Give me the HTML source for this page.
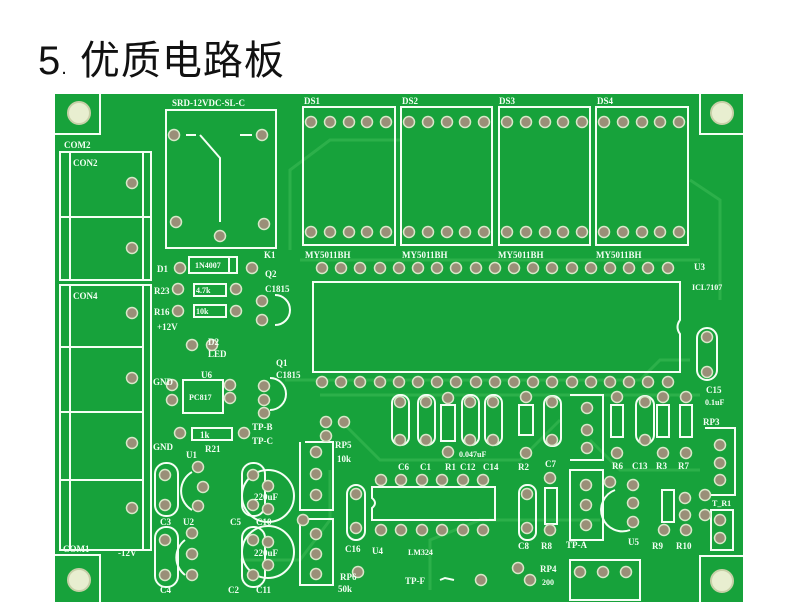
<!DOCTYPE html>
<html><head><meta charset="utf-8">
<style>
html,body{margin:0;padding:0;background:#fff;width:800px;height:605px;overflow:hidden}
#t{position:absolute;left:38px;top:28px;font:40px "Liberation Sans","Noto Sans CJK SC",sans-serif;color:#111;letter-spacing:1px}
svg{position:absolute;left:0;top:0}
.s{fill:none;stroke:#f4fff4;stroke-width:2}
.tr{fill:none;stroke:#2cb04a;stroke-width:3}
text{fill:#f4fff4;font-family:"Liberation Serif",serif;font-weight:bold}
</style></head><body>
<div id="t">5<span style="font-size:20px">.</span> 优质电路板</div>
<svg width="800" height="605" xmlns:xlink="http://www.w3.org/1999/xlink">
<defs><circle id="p" cx="0" cy="0" r="5.5" fill="#9a8f78" stroke="#d8e8c8" stroke-width="1.5"/></defs>
<rect x="55" y="94" width="688" height="508" fill="#17a23b"/>
<g class="tr">
<path d="M290 250 L290 170 L330 140 L400 140"/>
<path d="M285 380 L640 380 L660 360 L690 360"/>
<path d="M300 260 L700 260"/>
<path d="M320 395 L700 395"/>
<path d="M340 420 L380 460 L520 460 L560 420"/>
<path d="M430 590 L430 540 L480 520 L600 520"/>
<path d="M240 560 L300 560 L330 520 L330 470"/>
<path d="M590 440 L620 470 L700 470"/>
<path d="M690 180 L720 200 L720 300"/>
</g>
<g class="s">
<path d="M100 94 L100 134 L55 134"/>
<path d="M700 94 L700 134 L743 134"/>
<path d="M55 555 L100 555 L100 602"/>
<path d="M743 556 L700 556 L700 602"/>
</g>
<g fill="#e8eed0" stroke="#c8d0a8" stroke-width="2">
<circle cx="79" cy="113" r="11"/><circle cx="722" cy="113" r="11"/>
<circle cx="79" cy="580" r="11"/><circle cx="722" cy="581" r="11"/>
</g>
<g class="s">
<rect x="60" y="152" width="91" height="128"/><line x1="70" y1="152" x2="70" y2="280"/><line x1="143" y1="152" x2="143" y2="280"/>
<line x1="60" y1="217" x2="151" y2="217"/>
<rect x="60" y="285" width="91" height="265"/><line x1="70" y1="285" x2="70" y2="550"/><line x1="143" y1="285" x2="143" y2="550"/>
<line x1="60" y1="347" x2="143" y2="347"/><line x1="60" y1="412" x2="143" y2="412"/><line x1="60" y1="480" x2="143" y2="480"/>
<rect x="166" y="110" width="110" height="138"/>
<path d="M186 135 L196 135 M200 135 L220 158 L220 222 M240 135 L252 135"/>
<rect x="303" y="107" width="92" height="138"/><rect x="401" y="107" width="91" height="138"/>
<rect x="499" y="107" width="91" height="138"/><rect x="596" y="107" width="92" height="138"/>
<path d="M313 282 L680 282 L680 320 Q675 327 680 334 L680 372 L313 372 Z"/>
<rect x="697" y="328" width="20" height="52" rx="10"/>
<rect x="189" y="257" width="48" height="16"/><line x1="229" y1="257" x2="229" y2="273"/>
<rect x="194" y="284" width="32" height="12"/><rect x="194" y="305" width="32" height="12"/>
<rect x="192" y="428" width="40" height="12"/>
<rect x="183" y="380" width="40" height="33"/>
<path d="M275 295 A15 15 0 0 1 275 325"/><path d="M270 378 A15 15 0 0 1 270 410"/>
<rect x="155" y="463" width="23" height="53" rx="11"/><rect x="242" y="463" width="23" height="53" rx="11"/>
<rect x="155" y="527" width="23" height="60" rx="11"/><rect x="242" y="527" width="23" height="60" rx="11"/>
<path d="M192 472 A22 22 0 0 0 192 510"/><path d="M185 540 A22 22 0 0 0 185 575"/>
<circle cx="268" cy="496" r="26"/><circle cx="268" cy="552" r="26"/>
<path d="M300 442 L300 510 L333 510 L333 442 L305 442"/>
<path d="M300 519 L300 585 L333 585 L333 519 L305 519"/>
<rect x="347" y="485" width="18" height="55" rx="9"/>
<path d="M372 487 L495 487 L495 520 L372 520 L372 508 Q378 503 372 498 Z"/>
<rect x="392" y="395" width="17" height="50" rx="8"/><rect x="418" y="395" width="17" height="50" rx="8"/>
<rect x="462" y="395" width="17" height="50" rx="8"/><rect x="485" y="395" width="17" height="50" rx="8"/>
<rect x="441" y="405" width="14" height="36"/><rect x="519" y="405" width="14" height="30"/>
<rect x="544" y="396" width="17" height="50" rx="8"/>
<path d="M570 395 L603 395 L603 460 L570 460"/>
<rect x="611" y="405" width="12" height="32"/><rect x="636" y="396" width="18" height="48" rx="9"/>
<rect x="657" y="405" width="12" height="32"/><rect x="680" y="405" width="12" height="32"/>
<path d="M705 428 L735 428 L735 495 L705 495"/>
<rect x="519" y="485" width="17" height="55" rx="8"/><rect x="545" y="488" width="12" height="36"/>
<path d="M570 470 L603 470 L603 540 L570 540 Z"/>
<path d="M615 490 A18 18 0 0 0 630 530"/>
<rect x="662" y="490" width="12" height="32"/>
<rect x="711" y="510" width="22" height="40"/>
<path d="M570 560 L640 560 L640 600 L570 600 Z"/>
<path d="M454 580 L445 578 L440 580"/>
</g>
<g>
<use xlink:href="#p" x="132" y="183"/><use xlink:href="#p" x="132" y="248"/><use xlink:href="#p" x="132" y="313"/><use xlink:href="#p" x="132" y="378"/><use xlink:href="#p" x="132" y="443"/><use xlink:href="#p" x="132" y="508"/>
<use xlink:href="#p" x="174" y="135"/><use xlink:href="#p" x="262" y="135"/><use xlink:href="#p" x="176" y="222"/><use xlink:href="#p" x="220" y="236"/><use xlink:href="#p" x="264" y="224"/>
<use xlink:href="#p" x="311" y="122"/><use xlink:href="#p" x="330" y="122"/><use xlink:href="#p" x="349" y="122"/><use xlink:href="#p" x="367" y="122"/><use xlink:href="#p" x="386" y="122"/>
<use xlink:href="#p" x="409" y="122"/><use xlink:href="#p" x="428" y="122"/><use xlink:href="#p" x="447" y="122"/><use xlink:href="#p" x="465" y="122"/><use xlink:href="#p" x="484" y="122"/>
<use xlink:href="#p" x="507" y="122"/><use xlink:href="#p" x="526" y="122"/><use xlink:href="#p" x="545" y="122"/><use xlink:href="#p" x="563" y="122"/><use xlink:href="#p" x="582" y="122"/>
<use xlink:href="#p" x="604" y="122"/><use xlink:href="#p" x="623" y="122"/><use xlink:href="#p" x="642" y="122"/><use xlink:href="#p" x="660" y="122"/><use xlink:href="#p" x="679" y="122"/>
<use xlink:href="#p" x="311" y="232"/><use xlink:href="#p" x="330" y="232"/><use xlink:href="#p" x="349" y="232"/><use xlink:href="#p" x="367" y="232"/><use xlink:href="#p" x="386" y="232"/>
<use xlink:href="#p" x="409" y="232"/><use xlink:href="#p" x="428" y="232"/><use xlink:href="#p" x="447" y="232"/><use xlink:href="#p" x="465" y="232"/><use xlink:href="#p" x="484" y="232"/>
<use xlink:href="#p" x="507" y="232"/><use xlink:href="#p" x="526" y="232"/><use xlink:href="#p" x="545" y="232"/><use xlink:href="#p" x="563" y="232"/><use xlink:href="#p" x="582" y="232"/>
<use xlink:href="#p" x="604" y="232"/><use xlink:href="#p" x="623" y="232"/><use xlink:href="#p" x="642" y="232"/><use xlink:href="#p" x="660" y="232"/><use xlink:href="#p" x="679" y="232"/>
<use xlink:href="#p" x="322" y="268"/><use xlink:href="#p" x="341" y="268"/><use xlink:href="#p" x="360" y="268"/><use xlink:href="#p" x="380" y="268"/><use xlink:href="#p" x="399" y="268"/><use xlink:href="#p" x="418" y="268"/><use xlink:href="#p" x="437" y="268"/><use xlink:href="#p" x="456" y="268"/><use xlink:href="#p" x="476" y="268"/><use xlink:href="#p" x="495" y="268"/><use xlink:href="#p" x="514" y="268"/><use xlink:href="#p" x="533" y="268"/><use xlink:href="#p" x="552" y="268"/><use xlink:href="#p" x="572" y="268"/><use xlink:href="#p" x="591" y="268"/><use xlink:href="#p" x="610" y="268"/><use xlink:href="#p" x="629" y="268"/><use xlink:href="#p" x="648" y="268"/><use xlink:href="#p" x="668" y="268"/>
<use xlink:href="#p" x="322" y="382"/><use xlink:href="#p" x="341" y="382"/><use xlink:href="#p" x="360" y="382"/><use xlink:href="#p" x="380" y="382"/><use xlink:href="#p" x="399" y="382"/><use xlink:href="#p" x="418" y="382"/><use xlink:href="#p" x="437" y="382"/><use xlink:href="#p" x="456" y="382"/><use xlink:href="#p" x="476" y="382"/><use xlink:href="#p" x="495" y="382"/><use xlink:href="#p" x="514" y="382"/><use xlink:href="#p" x="533" y="382"/><use xlink:href="#p" x="552" y="382"/><use xlink:href="#p" x="572" y="382"/><use xlink:href="#p" x="591" y="382"/><use xlink:href="#p" x="610" y="382"/><use xlink:href="#p" x="629" y="382"/><use xlink:href="#p" x="648" y="382"/><use xlink:href="#p" x="668" y="382"/>
<use xlink:href="#p" x="381" y="480"/><use xlink:href="#p" x="401" y="480"/><use xlink:href="#p" x="422" y="480"/><use xlink:href="#p" x="442" y="480"/><use xlink:href="#p" x="463" y="480"/><use xlink:href="#p" x="483" y="480"/>
<use xlink:href="#p" x="381" y="530"/><use xlink:href="#p" x="401" y="530"/><use xlink:href="#p" x="422" y="530"/><use xlink:href="#p" x="442" y="530"/><use xlink:href="#p" x="463" y="530"/><use xlink:href="#p" x="483" y="530"/>
<use xlink:href="#p" x="180" y="268"/><use xlink:href="#p" x="252" y="268"/><use xlink:href="#p" x="178" y="289"/><use xlink:href="#p" x="236" y="289"/><use xlink:href="#p" x="178" y="311"/><use xlink:href="#p" x="236" y="311"/>
<use xlink:href="#p" x="262" y="301"/><use xlink:href="#p" x="262" y="320"/><use xlink:href="#p" x="192" y="345"/><use xlink:href="#p" x="212" y="345"/>
<use xlink:href="#p" x="172" y="385"/><use xlink:href="#p" x="172" y="400"/><use xlink:href="#p" x="230" y="385"/><use xlink:href="#p" x="230" y="398"/>
<use xlink:href="#p" x="264" y="386"/><use xlink:href="#p" x="264" y="400"/><use xlink:href="#p" x="264" y="413"/><use xlink:href="#p" x="180" y="433"/><use xlink:href="#p" x="244" y="433"/>
<use xlink:href="#p" x="165" y="475"/><use xlink:href="#p" x="165" y="505"/><use xlink:href="#p" x="253" y="475"/><use xlink:href="#p" x="253" y="505"/>
<use xlink:href="#p" x="198" y="467"/><use xlink:href="#p" x="203" y="487"/><use xlink:href="#p" x="198" y="506"/>
<use xlink:href="#p" x="165" y="540"/><use xlink:href="#p" x="165" y="575"/><use xlink:href="#p" x="253" y="540"/><use xlink:href="#p" x="253" y="575"/>
<use xlink:href="#p" x="192" y="533"/><use xlink:href="#p" x="192" y="554"/><use xlink:href="#p" x="192" y="575"/>
<use xlink:href="#p" x="268" y="486"/><use xlink:href="#p" x="268" y="509"/><use xlink:href="#p" x="268" y="542"/><use xlink:href="#p" x="268" y="565"/>
<use xlink:href="#p" x="316" y="452"/><use xlink:href="#p" x="316" y="474"/><use xlink:href="#p" x="316" y="495"/><use xlink:href="#p" x="316" y="534"/><use xlink:href="#p" x="316" y="554"/><use xlink:href="#p" x="316" y="574"/>
<use xlink:href="#p" x="303" y="520"/><use xlink:href="#p" x="356" y="494"/><use xlink:href="#p" x="356" y="528"/>
<use xlink:href="#p" x="326" y="422"/><use xlink:href="#p" x="326" y="436"/><use xlink:href="#p" x="344" y="422"/>
<use xlink:href="#p" x="400" y="402"/><use xlink:href="#p" x="400" y="440"/><use xlink:href="#p" x="426" y="402"/><use xlink:href="#p" x="426" y="440"/>
<use xlink:href="#p" x="448" y="398"/><use xlink:href="#p" x="448" y="452"/><use xlink:href="#p" x="470" y="402"/><use xlink:href="#p" x="470" y="440"/>
<use xlink:href="#p" x="493" y="402"/><use xlink:href="#p" x="493" y="440"/><use xlink:href="#p" x="526" y="397"/><use xlink:href="#p" x="526" y="453"/>
<use xlink:href="#p" x="552" y="402"/><use xlink:href="#p" x="552" y="440"/><use xlink:href="#p" x="587" y="408"/><use xlink:href="#p" x="587" y="430"/><use xlink:href="#p" x="587" y="448"/>
<use xlink:href="#p" x="617" y="397"/><use xlink:href="#p" x="617" y="453"/><use xlink:href="#p" x="645" y="402"/><use xlink:href="#p" x="645" y="440"/>
<use xlink:href="#p" x="663" y="397"/><use xlink:href="#p" x="663" y="453"/><use xlink:href="#p" x="686" y="397"/><use xlink:href="#p" x="686" y="453"/>
<use xlink:href="#p" x="707" y="337"/><use xlink:href="#p" x="707" y="372"/><use xlink:href="#p" x="720" y="445"/><use xlink:href="#p" x="720" y="463"/><use xlink:href="#p" x="720" y="480"/>
<use xlink:href="#p" x="550" y="478"/><use xlink:href="#p" x="550" y="530"/><use xlink:href="#p" x="527" y="494"/><use xlink:href="#p" x="527" y="528"/>
<use xlink:href="#p" x="586" y="485"/><use xlink:href="#p" x="586" y="505"/><use xlink:href="#p" x="586" y="525"/><use xlink:href="#p" x="610" y="482"/>
<use xlink:href="#p" x="633" y="485"/><use xlink:href="#p" x="633" y="503"/><use xlink:href="#p" x="633" y="522"/>
<use xlink:href="#p" x="664" y="530"/><use xlink:href="#p" x="686" y="530"/><use xlink:href="#p" x="685" y="498"/><use xlink:href="#p" x="685" y="515"/>
<use xlink:href="#p" x="705" y="495"/><use xlink:href="#p" x="705" y="515"/><use xlink:href="#p" x="720" y="520"/><use xlink:href="#p" x="720" y="538"/>
<use xlink:href="#p" x="580" y="572"/><use xlink:href="#p" x="603" y="572"/><use xlink:href="#p" x="626" y="572"/>
<use xlink:href="#p" x="518" y="568"/><use xlink:href="#p" x="481" y="580"/><use xlink:href="#p" x="530" y="580"/><use xlink:href="#p" x="358" y="572"/>
</g>
<g font-size="9">
<text x="172" y="106">SRD-12VDC-SL-C</text>
<text x="64" y="148">COM2</text><text x="73" y="166">CON2</text><text x="73" y="299">CON4</text>
<text x="63" y="552">COM1</text><text x="118" y="556">-12V</text>
<text x="304" y="104">DS1</text><text x="402" y="104">DS2</text><text x="499" y="104">DS3</text><text x="597" y="104">DS4</text>
<text x="305" y="258">MY5011BH</text><text x="402" y="258">MY5011BH</text><text x="498" y="258">MY5011BH</text><text x="596" y="258">MY5011BH</text>
<text x="264" y="258">K1</text><text x="157" y="272">D1</text><text x="154" y="294">R23</text><text x="154" y="315">R16</text>
<text x="157" y="330">+12V</text><text x="265" y="277">Q2</text><text x="265" y="292">C1815</text>
<text x="195" y="268" font-size="8">1N4007</text><text x="196" y="293" font-size="8">4.7k</text><text x="196" y="314" font-size="8">10k</text>
<text x="208" y="345">D2</text><text x="208" y="357">LED</text><text x="201" y="378">U6</text><text x="189" y="400" font-size="8">PC817</text>
<text x="276" y="366">Q1</text><text x="276" y="378">C1815</text>
<text x="153" y="385">GND</text><text x="153" y="450">GND</text><text x="200" y="438">1k</text><text x="205" y="452">R21</text>
<text x="252" y="430">TP-B</text><text x="252" y="444">TP-C</text><text x="335" y="448">RP5</text><text x="337" y="462">10k</text>
<text x="186" y="458">U1</text><text x="160" y="525">C3</text><text x="183" y="525">U2</text><text x="230" y="525">C5</text><text x="256" y="525">C10</text>
<text x="160" y="593">C4</text><text x="228" y="593">C2</text><text x="256" y="593">C11</text>
<text x="254" y="500">220uF</text><text x="254" y="556">220uF</text>
<text x="340" y="580">RP6</text><text x="338" y="592">50k</text><text x="345" y="552">C16</text><text x="372" y="554">U4</text><text x="408" y="555" font-size="8">LM324</text>
<text x="398" y="470">C6</text><text x="420" y="470">C1</text><text x="445" y="470">R1</text><text x="460" y="470">C12</text><text x="483" y="470">C14</text>
<text x="459" y="457" font-size="8">0.047uF</text><text x="518" y="470">R2</text><text x="545" y="467">C7</text>
<text x="518" y="549">C8</text><text x="541" y="549">R8</text><text x="566" y="548">TP-A</text><text x="540" y="572">RP4</text><text x="542" y="585" font-size="8">200</text>
<text x="405" y="584">TP-F</text>
<text x="612" y="469">R6</text><text x="632" y="469">C13</text><text x="656" y="469">R3</text><text x="678" y="469">R7</text>
<text x="703" y="425">RP3</text><text x="706" y="393">C15</text><text x="705" y="405" font-size="8">0.1uF</text>
<text x="694" y="270">U3</text><text x="692" y="290" font-size="8">ICL7107</text>
<text x="628" y="545">U5</text><text x="652" y="549">R9</text><text x="676" y="549">R10</text><text x="712" y="506" font-size="8">T_R1</text>
</g>
</svg>
</body></html>
